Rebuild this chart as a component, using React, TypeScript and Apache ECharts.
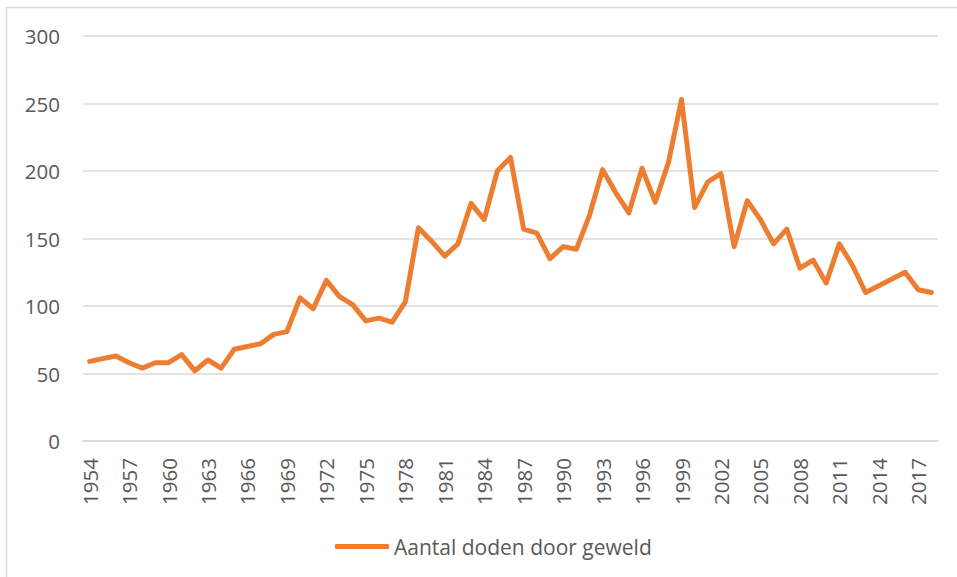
import React, { useEffect, useRef } from "react";
import * as echarts from "echarts";

const years: string[] = [];
for (let y = 1954; y <= 2018; y++) years.push(String(y));

const deaths = [
  59, 61, 63, 58, 54, 58, 58, 64, 52, 60,
  54, 68, 70, 72, 79, 81, 106, 98, 119, 107,
  101, 89, 91, 88, 103, 158, 148, 137, 146, 176,
  164, 200, 210, 157, 154, 135, 144, 142, 167, 201,
  184, 169, 202, 177, 206, 253, 173, 192, 198, 144,
  178, 164, 146, 157, 128, 134, 117, 146, 130, 110,
  115, 120, 125, 112, 110,
];

const seriesName = "Aantal doden door geweld";
const yTicks = { min: 0, max: 300, interval: 50 };

export default function App() {
  const ref = useRef<HTMLDivElement>(null);
  useEffect(() => {
    document.body.style.margin = "0";
    const chart = echarts.init(ref.current!, null, { renderer: "svg" });
    const font = "'Open Sans', 'Noto Sans', sans-serif";
    chart.setOption({
      animation: false,
      backgroundColor: "#ffffff",
      textStyle: { fontFamily: font },
      graphic: [
        {
          type: "rect",
          shape: { x: 6.5, y: 7.5, width: 980, height: 600 },
          style: { fill: "none", stroke: "#d9d9d9", lineWidth: 1.5 },
          silent: true,
        },
      ],
      grid: { left: 83, right: 19, top: 36, bottom: 136, containLabel: false },
      xAxis: {
        type: "category",
        data: years,
        boundaryGap: true,
        axisLine: { show: true, lineStyle: { color: "#d9d9d9", width: 1.5 } },
        axisTick: { show: false },
        axisLabel: {
          interval: 2,
          rotate: 90,
          margin: 17,
          color: "#595959",
          fontSize: 20.5,
          fontFamily: font,
        },
        splitLine: { show: false },
      },
      yAxis: {
        type: "value",
        min: yTicks.min,
        max: yTicks.max,
        interval: yTicks.interval,
        axisLine: { show: false },
        axisTick: { show: false },
        axisLabel: { color: "#595959", fontSize: 20.5, margin: 23, fontFamily: font },
        splitLine: { lineStyle: { color: "#d9d9d9", width: 1.5 } },
      },
      legend: {
        data: [seriesName],
        left: 330,
        top: 531,
        icon: "roundRect",
        itemWidth: 54,
        itemHeight: 5,
        itemGap: 4,
        textStyle: { color: "#595959", fontSize: 21, fontFamily: font },
      },
      series: [
        {
          name: seriesName,
          type: "line",
          data: deaths,
          symbol: "none",
          lineStyle: { color: "#ED7D31", width: 5, cap: "round", join: "round" },
          itemStyle: { color: "#ED7D31" },
        },
      ],
    });
    return () => chart.dispose();
  }, []);
  return <div ref={ref} style={{ width: 957, height: 577 }} />;
}
